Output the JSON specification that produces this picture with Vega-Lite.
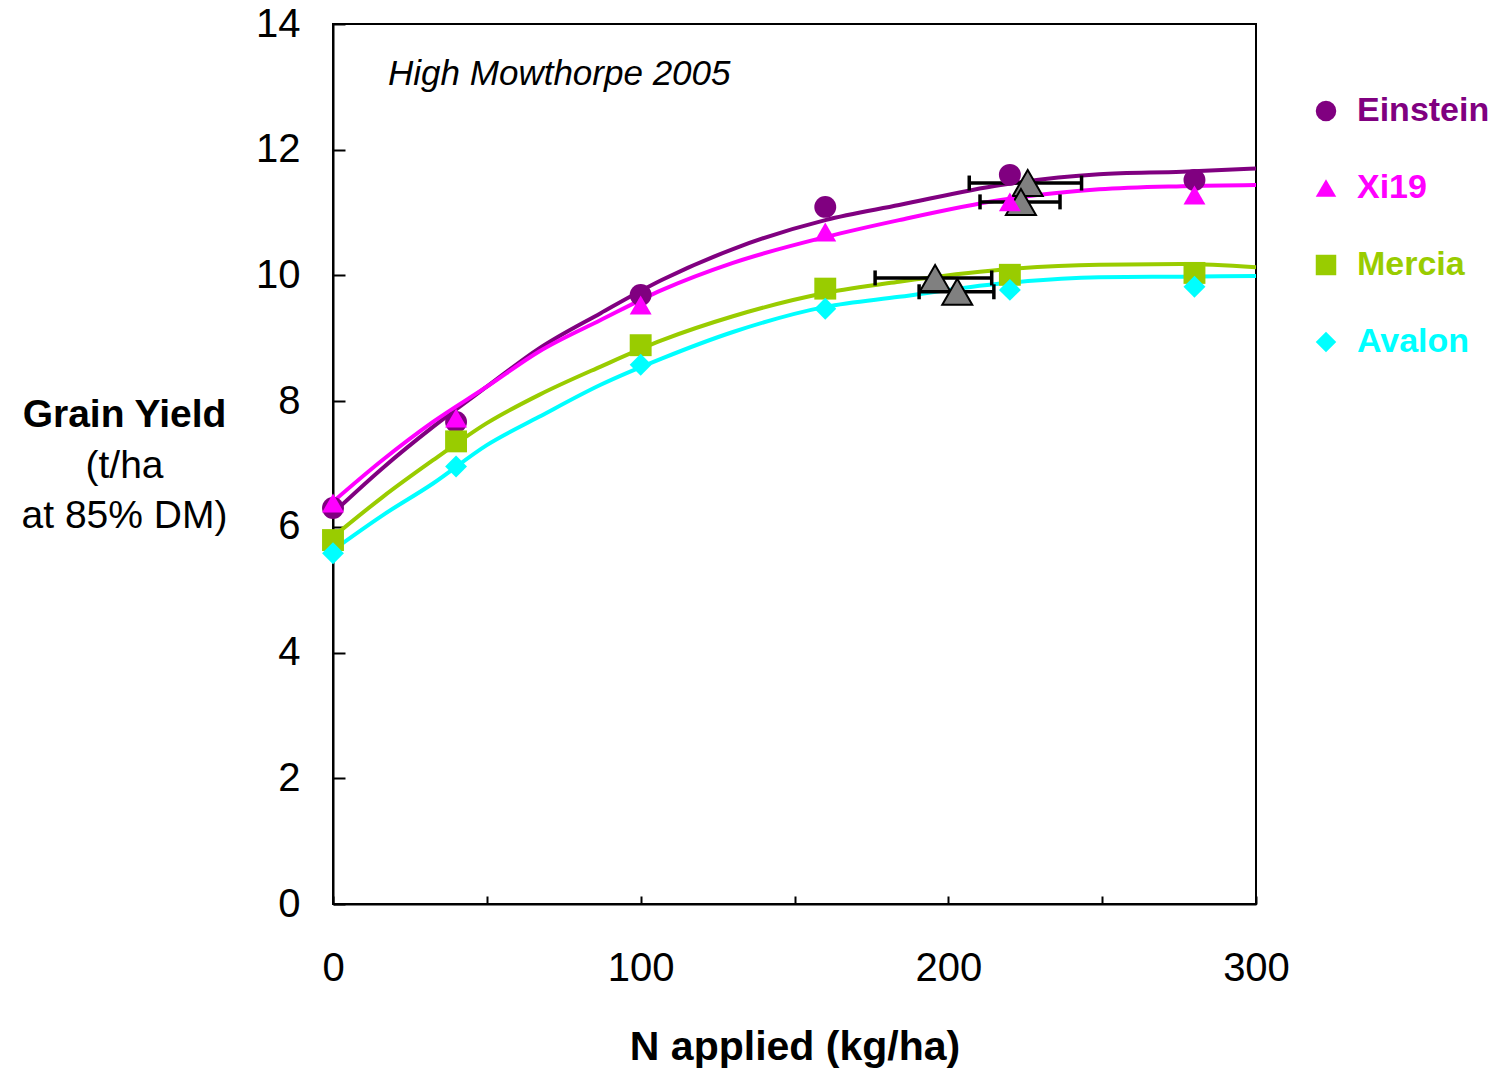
{
  "$schema": "https://vega.github.io/schema/vega-lite/v6.json",
  "width": 923,
  "height": 880,
  "autosize": "none",
  "padding": {"left": 333, "top": 24, "right": 238, "bottom": 168},
  "background": "white",
  "config": {
    "font": "Liberation Sans",
    "view": {"stroke": "black", "strokeWidth": 2},
    "axis": {
      "domainColor": "black", "domainWidth": 2, "tickColor": "black", "tickWidth": 2,
      "labelColor": "black", "titleColor": "black", "grid": false,
      "labelFontSize": 40, "titleFontSize": 41, "titleFontWeight": "bold"
    },
    "legend": {
      "labelFontSize": 34, "labelFontWeight": "bold", "symbolSize": 420, "symbolStrokeWidth": 0,
      "rowPadding": 43, "labelOffset": 14, "padding": 0
    }
  },
  "resolve": {"axis": {"y": "independent"}},
  "datasets": {
    "curves": [
      {"series": "Einstein", "N": 0, "yield": 6.22},
      {"series": "Einstein", "N": 16, "yield": 6.93},
      {"series": "Einstein", "N": 32.5, "yield": 7.59},
      {"series": "Einstein", "N": 50, "yield": 8.23},
      {"series": "Einstein", "N": 67, "yield": 8.84},
      {"series": "Einstein", "N": 87, "yield": 9.40},
      {"series": "Einstein", "N": 107, "yield": 9.93},
      {"series": "Einstein", "N": 130, "yield": 10.42},
      {"series": "Einstein", "N": 160, "yield": 10.88},
      {"series": "Einstein", "N": 184, "yield": 11.12},
      {"series": "Einstein", "N": 217, "yield": 11.44},
      {"series": "Einstein", "N": 249, "yield": 11.61},
      {"series": "Einstein", "N": 276, "yield": 11.65},
      {"series": "Einstein", "N": 300, "yield": 11.70},
      {"series": "Xi19", "N": 0, "yield": 6.40},
      {"series": "Xi19", "N": 16, "yield": 7.06},
      {"series": "Xi19", "N": 32.5, "yield": 7.67},
      {"series": "Xi19", "N": 50, "yield": 8.23},
      {"series": "Xi19", "N": 67, "yield": 8.79},
      {"series": "Xi19", "N": 87, "yield": 9.29},
      {"series": "Xi19", "N": 107, "yield": 9.77},
      {"series": "Xi19", "N": 130, "yield": 10.20},
      {"series": "Xi19", "N": 160, "yield": 10.61},
      {"series": "Xi19", "N": 184, "yield": 10.88},
      {"series": "Xi19", "N": 217, "yield": 11.20},
      {"series": "Xi19", "N": 249, "yield": 11.37},
      {"series": "Xi19", "N": 276, "yield": 11.42},
      {"series": "Xi19", "N": 300, "yield": 11.44},
      {"series": "Mercia", "N": 0, "yield": 5.84},
      {"series": "Mercia", "N": 16, "yield": 6.47},
      {"series": "Mercia", "N": 32.5, "yield": 7.06},
      {"series": "Mercia", "N": 50, "yield": 7.65},
      {"series": "Mercia", "N": 67, "yield": 8.10},
      {"series": "Mercia", "N": 87, "yield": 8.55},
      {"series": "Mercia", "N": 107, "yield": 8.97},
      {"series": "Mercia", "N": 130, "yield": 9.35},
      {"series": "Mercia", "N": 160, "yield": 9.72},
      {"series": "Mercia", "N": 184, "yield": 9.90},
      {"series": "Mercia", "N": 217, "yield": 10.09},
      {"series": "Mercia", "N": 249, "yield": 10.17},
      {"series": "Mercia", "N": 276, "yield": 10.18},
      {"series": "Mercia", "N": 300, "yield": 10.13},
      {"series": "Avalon", "N": 0, "yield": 5.63},
      {"series": "Avalon", "N": 16, "yield": 6.18},
      {"series": "Avalon", "N": 32.5, "yield": 6.69},
      {"series": "Avalon", "N": 50, "yield": 7.30},
      {"series": "Avalon", "N": 67, "yield": 7.75},
      {"series": "Avalon", "N": 87, "yield": 8.26},
      {"series": "Avalon", "N": 107, "yield": 8.68},
      {"series": "Avalon", "N": 130, "yield": 9.10},
      {"series": "Avalon", "N": 160, "yield": 9.50},
      {"series": "Avalon", "N": 184, "yield": 9.66},
      {"series": "Avalon", "N": 217, "yield": 9.87},
      {"series": "Avalon", "N": 249, "yield": 9.97},
      {"series": "Avalon", "N": 276, "yield": 9.98},
      {"series": "Avalon", "N": 300, "yield": 9.99}
    ],
    "obs": [
      {"series": "Einstein", "N": 0, "yield": 6.30},
      {"series": "Einstein", "N": 40, "yield": 7.67},
      {"series": "Einstein", "N": 100, "yield": 9.69},
      {"series": "Einstein", "N": 160, "yield": 11.09},
      {"series": "Einstein", "N": 220, "yield": 11.60},
      {"series": "Einstein", "N": 280, "yield": 11.52},
      {"series": "Xi19", "N": 0, "yield": 6.38},
      {"series": "Xi19", "N": 40, "yield": 7.73},
      {"series": "Xi19", "N": 100, "yield": 9.53},
      {"series": "Xi19", "N": 160, "yield": 10.69},
      {"series": "Xi19", "N": 220, "yield": 11.17},
      {"series": "Xi19", "N": 280, "yield": 11.28},
      {"series": "Mercia", "N": 0, "yield": 5.79},
      {"series": "Mercia", "N": 40, "yield": 7.36},
      {"series": "Mercia", "N": 100, "yield": 8.89},
      {"series": "Mercia", "N": 160, "yield": 9.79},
      {"series": "Mercia", "N": 220, "yield": 10.01},
      {"series": "Mercia", "N": 280, "yield": 10.04},
      {"series": "Avalon", "N": 0, "yield": 5.58},
      {"series": "Avalon", "N": 40, "yield": 6.96},
      {"series": "Avalon", "N": 100, "yield": 8.58},
      {"series": "Avalon", "N": 160, "yield": 9.47},
      {"series": "Avalon", "N": 220, "yield": 9.77},
      {"series": "Avalon", "N": 280, "yield": 9.82}
    ],
    "optima": [
      {"series": "Einstein", "opt": 225.8, "lo": 206.8, "hi": 243.3, "yield": 11.47},
      {"series": "Xi19", "opt": 223.6, "lo": 210.3, "hi": 236.3, "yield": 11.17},
      {"series": "Mercia", "opt": 195.7, "lo": 176.2, "hi": 214.1, "yield": 9.96},
      {"series": "Avalon", "opt": 202.9, "lo": 190.5, "hi": 214.8, "yield": 9.74}
    ],
    "notes": [
      {"label": "High Mowthorpe 2005", "N": 17.9, "yield": 13.03}
    ]
  },
  "layer": [
    {
      "data": {"name": "curves"},
      "mark": {"type": "line", "strokeWidth": 4, "interpolate": "monotone"},
      "encoding": {
        "x": {
          "field": "N", "type": "quantitative", "title": "N applied (kg/ha)",
          "scale": {"domain": [0, 300], "nice": false},
          "axis": {
            "values": [0, 50, 100, 150, 200, 250, 300],
            "labelExpr": "datum.value % 100 === 0 ? datum.label : ''",
            "tickSize": -8, "labelPadding": 52, "titlePadding": 39, "labelFlush": false
          }
        },
        "y": {
          "field": "yield", "type": "quantitative",
          "scale": {"domain": [0, 14], "nice": false},
          "axis": {
            "orient": "left",
            "values": [0, 2, 4, 6, 8, 10, 12, 14], "format": "d",
            "tickSize": -12, "labelPadding": 45, "labelFlush": false,
            "title": "Grain Yield", "titleAngle": 0, "titleAlign": "center", "titleBaseline": "alphabetic",
            "titleX": -209, "titleY": 402, "titleFontSize": 39, "titleFontWeight": "bold"
          }
        },
        "stroke": {
          "field": "series", "type": "nominal", "legend": null,
          "scale": {"range": ["#00FFFF", "#800080", "#99CC00", "#FF00FF"]}
        }
      }
    },
    {
      "data": {"name": "optima"},
      "mark": {"type": "rule", "strokeWidth": 3.5, "color": "black"},
      "encoding": {
        "x": {"field": "lo", "type": "quantitative", "title": "N applied (kg/ha)"},
        "x2": {"field": "hi"},
        "y": {"field": "yield", "type": "quantitative", "axis": null}
      }
    },
    {
      "data": {"name": "optima"},
      "mark": {"type": "tick", "orient": "vertical", "size": 15, "thickness": 3.5, "color": "black", "opacity": 1},
      "encoding": {
        "x": {"field": "lo", "type": "quantitative", "title": "N applied (kg/ha)"},
        "y": {"field": "yield", "type": "quantitative", "axis": null}
      }
    },
    {
      "data": {"name": "optima"},
      "mark": {"type": "tick", "orient": "vertical", "size": 15, "thickness": 3.5, "color": "black", "opacity": 1},
      "encoding": {
        "x": {"field": "hi", "type": "quantitative", "title": "N applied (kg/ha)"},
        "y": {"field": "yield", "type": "quantitative", "axis": null}
      }
    },
    {
      "data": {"name": "optima"},
      "mark": {"type": "point", "shape": "triangle-up", "filled": true, "fill": "#808080", "stroke": "black", "strokeWidth": 2, "size": 900, "opacity": 1},
      "encoding": {
        "x": {"field": "opt", "type": "quantitative", "title": "N applied (kg/ha)"},
        "y": {"field": "yield", "type": "quantitative", "axis": null}
      }
    },
    {
      "data": {"name": "obs"},
      "mark": {"type": "point", "filled": true, "opacity": 1, "size": 480},
      "encoding": {
        "x": {"field": "N", "type": "quantitative", "title": "N applied (kg/ha)"},
        "y": {"field": "yield", "type": "quantitative", "axis": null},
        "color": {
          "field": "series", "type": "nominal",
          "scale": {"domain": ["Einstein", "Xi19", "Mercia", "Avalon"], "range": ["#800080", "#FF00FF", "#99CC00", "#00FFFF"]},
          "legend": {
            "orient": "none", "legendX": 976, "legendY": 70, "title": null,
            "labelColor": {"expr": "scale('color', datum.value)"}
          }
        },
        "shape": {
          "field": "series", "type": "nominal",
          "scale": {"domain": ["Einstein", "Xi19", "Mercia", "Avalon"], "range": ["circle", "triangle-up", "square", "diamond"]},
          "legend": {
            "orient": "none", "legendX": 976, "legendY": 70, "title": null,
            "labelColor": {"expr": "scale('color', datum.value)"}
          }
        }
      }
    },
    {
      "data": {"name": "notes"},
      "mark": {"type": "text", "align": "left", "baseline": "alphabetic", "fontSize": 35, "fontStyle": "italic", "color": "black"},
      "encoding": {
        "x": {"field": "N", "type": "quantitative", "title": "N applied (kg/ha)"},
        "y": {
          "field": "yield", "type": "quantitative",
          "axis": {
            "orient": "left", "labels": false, "ticks": false, "domain": false,
            "title": ["(t/ha", "at 85% DM)"], "titleAngle": 0, "titleAlign": "center", "titleBaseline": "alphabetic",
            "titleX": -209, "titleY": 453, "titleFontSize": 39, "titleFontWeight": "normal", "titleLineHeight": 50
          }
        },
        "text": {"field": "label"}
      }
    }
  ]
}
